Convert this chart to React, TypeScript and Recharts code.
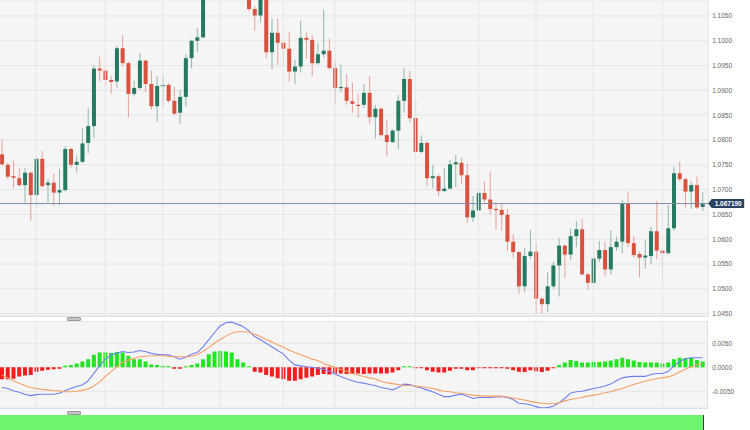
import {
  ComposedChart,
  Bar,
  Line,
  XAxis,
  YAxis,
  CartesianGrid,
  ReferenceLine,
  Cell,
} from 'recharts'

// daily candles, oldest first (the ones around 36-42 run off the top of the panel)
const opens = [
  1.0771, 1.075, 1.0727, 1.0723, 1.0709, 1.0734, 1.0689, 1.0762, 1.0709, 1.0714,
  1.0694, 1.0699, 1.0782, 1.075, 1.0756, 1.0794, 1.0828, 1.0944, 1.094, 1.0921,
  1.0918, 1.0985, 1.0955, 1.0893, 1.0905, 1.096, 1.0913, 1.0868, 1.0909, 1.0911,
  1.0879, 1.0855, 1.0887, 1.0965, 1.1, 1.1007, 1.1105, 1.1128, 1.111, 1.115,
  1.1135, 1.1112, 1.1125, 1.1095, 1.1064, 1.1051, 1.109, 1.0977, 1.1016, 1.0996,
  1.0984, 1.0938, 1.0948, 1.1006, 1.1002, 1.0955, 1.0973, 1.098, 1.0945, 1.0905,
  1.0906, 1.0878, 1.0871, 1.0871, 1.0895, 1.0846, 1.0863, 1.081, 1.0796, 1.0819,
  1.0879, 1.0923, 1.0844, 1.0776, 1.0794, 1.0723, 1.0727, 1.0697, 1.0702, 1.0751,
  1.0754, 1.0729, 1.0644, 1.0658, 1.0693, 1.068, 1.0661, 1.0659, 1.0649, 1.0595,
  1.0574, 1.0505, 1.0566, 1.0575, 1.048, 1.0469, 1.0505, 1.0547, 1.0587, 1.0569,
  1.0606, 1.062, 1.0529, 1.0512, 1.0561, 1.0578, 1.0539, 1.0584, 1.0595, 1.0671,
  1.0592, 1.057, 1.0563, 1.0566, 1.0616, 1.0577, 1.0572, 1.0622, 1.0733, 1.0721,
  1.0696, 1.0709, 1.0665,
]
const highs = [
  1.0801, 1.0754, 1.0758, 1.0744, 1.0744, 1.0736, 1.0768, 1.0778, 1.0721, 1.0733,
  1.0741, 1.0788, 1.0784, 1.0769, 1.0823, 1.0865, 1.095, 1.0968, 1.0945, 1.0929,
  1.099, 1.1012, 1.0958, 1.0919, 1.0975, 1.0962, 1.094, 1.0929, 1.0933, 1.0915,
  1.0907, 1.0901, 1.0973, 1.1002, 1.1025, 1.1115, 1.114, 1.1145, 1.116, 1.1165,
  1.114, 1.1138, 1.113, 1.11, 1.107, 1.1098, 1.1095, 1.1045, 1.1045, 1.1002,
  1.1018, 1.0962, 1.104, 1.1017, 1.1012, 1.0995, 1.1063, 1.1004, 1.096, 1.0952,
  1.0933, 1.0916, 1.0893, 1.0913, 1.0929, 1.0871, 1.0866, 1.0841, 1.0822, 1.0891,
  1.0945, 1.094, 1.0881, 1.0809, 1.0798, 1.075, 1.0731, 1.0744, 1.076, 1.077,
  1.0764, 1.0752, 1.0687, 1.0697, 1.0717, 1.0737, 1.0674, 1.0672, 1.0661, 1.061,
  1.0576, 1.0582, 1.0619, 1.0594, 1.0483, 1.0533, 1.0555, 1.0602, 1.0589, 1.0622,
  1.0636, 1.064, 1.0533, 1.0567, 1.0596, 1.0595, 1.0618, 1.0605, 1.0679, 1.0696,
  1.0607, 1.0575, 1.0598, 1.0625, 1.0677, 1.058, 1.0669, 1.0746, 1.0756, 1.0724,
  1.0717, 1.0726, 1.0694,
]
const lows = [
  1.0748, 1.0721, 1.0703, 1.0706, 1.0674, 1.0637, 1.0664, 1.0704, 1.0674, 1.0667,
  1.0669, 1.0696, 1.0744, 1.0734, 1.0754, 1.0774, 1.0804, 1.0918, 1.0907, 1.0893,
  1.0905, 1.0948, 1.0845, 1.0888, 1.0901, 1.0897, 1.0861, 1.0836, 1.0869, 1.0875,
  1.0851, 1.0833, 1.0867, 1.0944, 1.0977, 1.1005, 1.1095, 1.11, 1.1102, 1.1125,
  1.11, 1.1098, 1.109, 1.106, 1.102, 1.1037, 1.0965, 1.0943, 1.0952, 1.0952,
  1.0918, 1.0913, 1.0936, 1.0965, 1.0929, 1.0952, 1.0966, 1.0942, 1.0873, 1.0897,
  1.0871, 1.0855, 1.0845, 1.0865, 1.0833, 1.0803, 1.0806, 1.0766, 1.0794, 1.0782,
  1.0855, 1.0836, 1.0774, 1.0773, 1.0707, 1.0703, 1.0687, 1.0695, 1.0701, 1.0705,
  1.0712, 1.0632, 1.0635, 1.0657, 1.0674, 1.065, 1.0619, 1.0617, 1.0577, 1.0563,
  1.049, 1.0493, 1.056, 1.045, 1.045, 1.0453, 1.05, 1.0485, 1.0521, 1.0558,
  1.0584, 1.0527, 1.0498, 1.051, 1.0554, 1.0525, 1.0529, 1.0577, 1.0572, 1.0584,
  1.0563, 1.0523, 1.0541, 1.055, 1.056, 1.052, 1.0569, 1.0617, 1.0717, 1.0664,
  1.0661, 1.0661, 1.0657,
]
const closes = [
  1.0751, 1.0726, 1.0724, 1.0709, 1.0734, 1.0689, 1.0762, 1.0707, 1.0714, 1.0694,
  1.0699, 1.0782, 1.075, 1.0756, 1.0793, 1.0828, 1.0944, 1.094, 1.0921, 1.0917,
  1.0985, 1.0955, 1.0893, 1.0905, 1.096, 1.0913, 1.0868, 1.0909, 1.0911, 1.0879,
  1.0853, 1.0887, 1.0965, 1.1, 1.1007, 1.1105, 1.1128, 1.111, 1.115, 1.1135,
  1.1112, 1.1125, 1.1095, 1.1064, 1.1051, 1.109, 1.0977, 1.1016, 1.0996, 1.0984,
  1.0938, 1.0948, 1.1006, 1.1002, 1.0955, 1.0973, 1.098, 1.0945, 1.0905, 1.0907,
  1.0879, 1.0873, 1.087, 1.0895, 1.0846, 1.0863, 1.081, 1.0796, 1.0819, 1.0879,
  1.0923, 1.0844, 1.0776, 1.0794, 1.0723, 1.0727, 1.0697, 1.0702, 1.0751, 1.0755,
  1.0729, 1.0644, 1.0658, 1.0693, 1.068, 1.0661, 1.0659, 1.0649, 1.0595, 1.0574,
  1.0505, 1.0566, 1.0575, 1.048, 1.0469, 1.0505, 1.0547, 1.0587, 1.0569, 1.0606,
  1.062, 1.0529, 1.0512, 1.0561, 1.0578, 1.0539, 1.0584, 1.0595, 1.0671, 1.0592,
  1.0568, 1.0563, 1.0567, 1.0616, 1.0577, 1.0572, 1.0622, 1.0733, 1.0721, 1.0696,
  1.0709, 1.0664, 1.06719,
]

// MACD panel
const macdHist = [
  -0.0025, -0.0025, -0.0024, -0.0019, -0.0017, -0.0016, -0.0009, -0.0007, -0.0005, -0.0004,
  -0.0003, 0.0003, 0.0005, 0.0008, 0.0012, 0.0017, 0.0026, 0.0031, 0.0031, 0.003,
  0.0032, 0.0031, 0.0024, 0.0017, 0.0017, 0.0012, 0.0006, 0.0005, 0.0003, 0.0001,
  -0.0003, -0.0003, 0.0, 0.0005, 0.0008, 0.0017, 0.0027, 0.0033, 0.0034, 0.0033,
  0.0031, 0.0017, 0.001, 0.0, -0.0009, -0.0011, -0.0016, -0.0019, -0.0023, -0.0025,
  -0.0028, -0.0028, -0.0025, -0.0022, -0.0019, -0.0016, -0.0014, -0.0015, -0.0013, -0.0013,
  -0.0014, -0.0014, -0.0013, -0.0014, -0.0013, -0.0013, -0.0013, -0.0013, -0.0011, -0.0006,
  0.0001, 0.0001, -0.0002, -0.0002, -0.0006, -0.0009, -0.0011, -0.0011, -0.0007, -0.0003,
  -0.0003, -0.0006, -0.0006, -0.0002, -0.0002, -0.0002, -0.0002, -0.0001, -0.0003, -0.0006,
  -0.0009, -0.001, -0.0006, -0.0008, -0.001, -0.0007, -0.0001, 0.0005, 0.001, 0.0015,
  0.0013, 0.001, 0.001, 0.0011, 0.0011, 0.0012, 0.0014, 0.0017, 0.002, 0.0017,
  0.0014, 0.0011, 0.001, 0.001, 0.001, 0.0008, 0.001, 0.0017, 0.002, 0.0019,
  0.002, 0.0015, 0.0012,
]
const macdLine = [
  -0.0042, -0.0044, -0.0049, -0.0052, -0.0056, -0.0059, -0.0057, -0.0056, -0.0056, -0.0056,
  -0.0054, -0.0049, -0.0044, -0.004, -0.0037, -0.0028, -0.0013, 0.0003, 0.0017, 0.0026,
  0.0029, 0.0033, 0.0031, 0.0032, 0.0035, 0.0033, 0.0029, 0.0027, 0.0026, 0.0026,
  0.0022, 0.0017, 0.0021, 0.0027, 0.0031, 0.0042, 0.0057, 0.0072, 0.0086, 0.0093,
  0.0094, 0.009, 0.0085, 0.0076, 0.0064, 0.0058, 0.005, 0.0043, 0.0035, 0.0028,
  0.0015, 0.0005, 0.0003, 0.0001, 0.0, -0.0002, -0.0004, -0.0008, -0.0014, -0.0019,
  -0.0024, -0.0028, -0.0031, -0.0033, -0.0036, -0.0038, -0.0042, -0.0044, -0.0047, -0.0042,
  -0.0035, -0.0036, -0.004, -0.0043, -0.0047, -0.0051, -0.0056, -0.0061, -0.0061, -0.0058,
  -0.0056, -0.006, -0.0065, -0.0063, -0.0063, -0.0063, -0.0062, -0.0061, -0.0063, -0.0067,
  -0.0075, -0.0076, -0.0078, -0.0082, -0.0085, -0.0084, -0.0081, -0.0074, -0.0065, -0.0054,
  -0.0051, -0.005, -0.0047, -0.0044, -0.0042, -0.0039, -0.0035, -0.0028, -0.0022, -0.002,
  -0.0019, -0.0019, -0.0019, -0.0015, -0.0013, -0.0013, -0.0009, 0.0003, 0.0012, 0.0018,
  0.002, 0.002, 0.002,
]
const signalLine = [
  -0.0016, -0.0022, -0.0028, -0.0033, -0.0038, -0.0042, -0.0044, -0.0046, -0.0047, -0.0049,
  -0.0049, -0.0051, -0.0051, -0.005, -0.0048, -0.0045, -0.0039, -0.0031, -0.0019, -0.0009,
  0.0001, 0.001, 0.0015, 0.0019, 0.0022, 0.0023, 0.0024, 0.0024, 0.0024, 0.0023,
  0.0022, 0.0022, 0.0022, 0.0023, 0.0026, 0.0033, 0.0041, 0.005, 0.0058, 0.0065,
  0.0071, 0.0074, 0.0074, 0.0073, 0.0069, 0.0064, 0.0058, 0.0053, 0.0047, 0.0042,
  0.0036, 0.0031, 0.0026, 0.0022, 0.0017, 0.0014, 0.0008, 0.0004, 0.0, -0.0004,
  -0.0008, -0.0013, -0.0016, -0.0019, -0.0022, -0.0024, -0.0029, -0.0032, -0.0034, -0.0036,
  -0.0038, -0.0038, -0.0039, -0.004, -0.0042, -0.0044, -0.0047, -0.005, -0.0051, -0.0053,
  -0.0054, -0.0056, -0.0058, -0.0059, -0.006, -0.006, -0.006, -0.006, -0.0062, -0.0064,
  -0.0066, -0.0068, -0.0071, -0.0073, -0.0075, -0.0076, -0.0076, -0.0074, -0.007, -0.0067,
  -0.0065, -0.0063, -0.006, -0.0058, -0.0056, -0.0053, -0.0051, -0.0047, -0.0044, -0.004,
  -0.0036, -0.0032, -0.0029, -0.0026, -0.0024, -0.0022, -0.002, -0.0016, -0.001, -0.0004,
  0.0001, 0.0005, 0.0008,
]

const priceTicks = [
  1.045, 1.05, 1.055, 1.06, 1.065, 1.07, 1.075, 1.08, 1.085, 1.09, 1.095, 1.1, 1.105,
]
const macdTicks = [-0.005, 0, 0.005]
// candles that carry a vertical grid line (period starts)
const gridIdx = [6, 18, 28, 38, 49, 58, 72, 83, 93, 103, 115]
const lastPrice = 1.06719

const candles = opens.map((o, i) => ({
  i,
  open: o,
  high: highs[i],
  low: lows[i],
  close: closes[i],
  range: [lows[i], highs[i]],
}))

const macdData = macdHist.map((h, i) => ({
  i,
  hist: h,
  macd: macdLine[i],
  signal: signalLine[i],
}))

const UP = '#267a64'
const DOWN = '#d9513f'
const GRID = '#e6e6e6'
const FONT = '"Liberation Sans", Arial, sans-serif'
const tickStyle = { fontSize: 6.5, fill: '#666', fontFamily: FONT }

function Candle(props: any) {
  const { x, y, width, height, payload } = props
  const { open, close, high, low } = payload
  const up = close >= open
  const span = high - low
  const k = span > 0 ? height / span : 0
  const yOpen = y + (high - open) * k
  const yClose = y + (high - close) * k
  const cx = x + width / 2
  const top = Math.min(yOpen, yClose)
  const h = Math.max(Math.abs(yOpen - yClose), 1.2)
  return (
    <g>
      <line
        x1={cx}
        x2={cx}
        y1={y}
        y2={y + height}
        stroke={up ? UP : DOWN}
        strokeOpacity={0.5}
        strokeWidth={1}
      />
      <rect x={cx - 2} y={top} width={4} height={h} fill={up ? UP : DOWN} />
    </g>
  )
}

function PriceTag(props: any) {
  const { viewBox, text } = props
  if (!viewBox) return null
  const x0 = viewBox.x + viewBox.width
  const y0 = viewBox.y
  return (
    <g>
      <path
        d={`M${x0} ${y0} L${x0 + 3.5} ${y0 - 4.5} L${x0 + 36} ${y0 - 4.5} L${x0 + 36} ${y0 + 4.5} L${x0 + 3.5} ${y0 + 4.5} Z`}
        fill="#2b4262"
      />
      <text
        x={x0 + 20}
        y={y0 + 2.3}
        textAnchor="middle"
        fontSize={6.5}
        fontWeight="bold"
        fill="#fff"
        fontFamily={FONT}
      >
        {text}
      </text>
    </g>
  )
}

const CHART_W = 753.2
const AXIS_W = 44

export default function App() {
  return (
    <div
      style={{
        position: 'absolute',
        left: 0,
        top: 0,
        width: 750,
        height: 430,
        background: '#fff',
        overflow: 'hidden',
      }}
    >
      {/* price panel */}
      <div
        style={{
          position: 'absolute',
          left: 0,
          top: 0,
          width: 708,
          height: 316,
          background: '#f5f5f5',
          borderRight: '1px solid #e1e4e9',
          borderBottom: '1px solid #dde1e7',
        }}
      />
      <div style={{ position: 'absolute', left: -1.2, top: 0 }}>
        <ComposedChart
          width={CHART_W}
          height={316}
          data={candles}
          margin={{ top: 0, right: 0, bottom: 0, left: 0 }}
        >
          <CartesianGrid vertical={false} stroke={GRID} />
          <XAxis dataKey="i" hide padding={{ left: 0, right: 2.8 }} />
          <YAxis
            orientation="right"
            width={AXIS_W}
            domain={[1.044516, 1.108226]}
            allowDataOverflow
            ticks={priceTicks}
            tickFormatter={(v: number) => v.toFixed(4)}
            tick={tickStyle}
            tickLine={false}
            tickSize={0}
            tickMargin={4}
            axisLine={false}
            interval={0}
          />
          {gridIdx.map((g) => (
            <ReferenceLine key={g} x={g} stroke={GRID} />
          ))}
          <Bar
            dataKey="range"
            isAnimationActive={false}
            shape={(p: any) => <Candle {...p} />}
          />
          <ReferenceLine
            y={lastPrice}
            stroke="#7d8ea6"
            strokeWidth={1}
            label={<PriceTag text={lastPrice.toFixed(6)} />}
          />
        </ComposedChart>
      </div>

      {/* grips between panels */}
      <div
        style={{
          position: 'absolute',
          left: 67,
          top: 317,
          width: 12,
          height: 2,
          background: '#c4c4c4',
          border: '0.5px solid #9a9a9a',
          borderRadius: 1,
        }}
      />
      <div
        style={{
          position: 'absolute',
          left: 67,
          top: 411,
          width: 12,
          height: 2,
          background: '#c4c4c4',
          border: '0.5px solid #9a9a9a',
          borderRadius: 1,
        }}
      />

      {/* MACD panel */}
      <div
        style={{
          position: 'absolute',
          left: 0,
          top: 321,
          width: 707,
          height: 86,
          background: '#f5f5f5',
          border: '1px solid #dde1e7',
          borderLeft: 'none',
        }}
      />
      <div style={{ position: 'absolute', left: -1.2, top: 321 }}>
        <ComposedChart
          width={CHART_W}
          height={87}
          data={macdData}
          margin={{ top: 0, right: 0, bottom: 0, left: 0 }}
        >
          <CartesianGrid vertical={false} stroke={GRID} />
          <XAxis dataKey="i" hide padding={{ left: 0, right: 2.8 }} />
          <YAxis
            orientation="right"
            width={AXIS_W}
            domain={[-0.00848, 0.00965]}
            allowDataOverflow
            ticks={macdTicks}
            tickFormatter={(v: number) => v.toFixed(4)}
            tick={tickStyle}
            tickLine={false}
            tickSize={0}
            tickMargin={4}
            axisLine={false}
            interval={0}
          />
          {gridIdx.map((g) => (
            <ReferenceLine key={g} x={g} stroke={GRID} />
          ))}
          <Bar dataKey="hist" barSize={4} minPointSize={1} isAnimationActive={false}>
            {macdData.map((d) => (
              <Cell key={d.i} fill={d.hist >= 0 ? '#1fe61f' : '#f41c1c'} />
            ))}
          </Bar>
          <Line
            dataKey="macd"
            type="linear"
            stroke="#6f80f2"
            strokeWidth={1.1}
            dot={false}
            isAnimationActive={false}
          />
          <Line
            dataKey="signal"
            type="linear"
            stroke="#f5a063"
            strokeWidth={1.1}
            dot={false}
            isAnimationActive={false}
          />
        </ComposedChart>
      </div>

      {/* navigator strip */}
      <div
        style={{
          position: 'absolute',
          left: 0,
          top: 415,
          width: 703,
          height: 15,
          background: '#6ef46e',
          borderRight: '1px solid #3a3a3a',
        }}
      />
    </div>
  )
}
